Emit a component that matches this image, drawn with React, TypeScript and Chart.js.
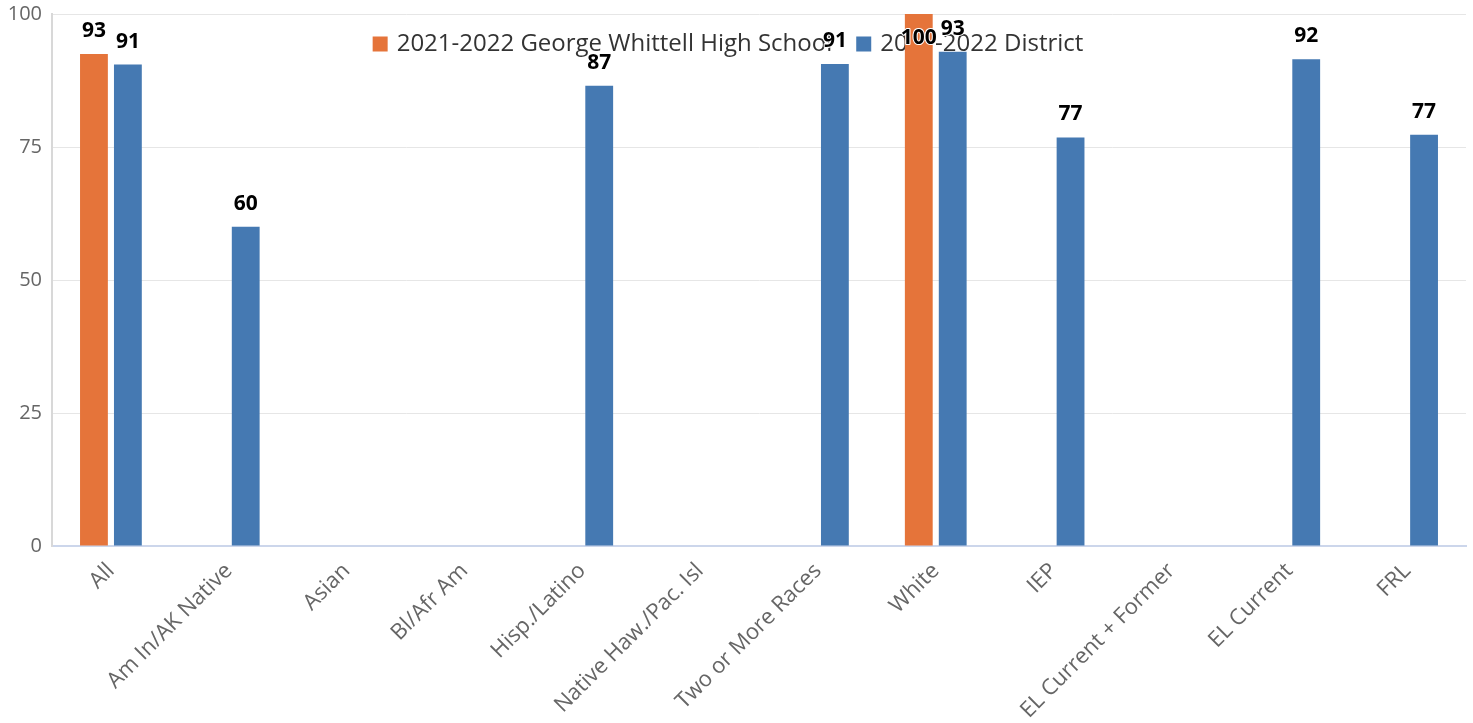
import React, { useEffect, useRef } from "react";
import { Chart, registerables } from "chart.js";

Chart.register(...registerables);

const categories = [
  "All",
  "Am In/AK Native",
  "Asian",
  "Bl/Afr Am",
  "Hisp./Latino",
  "Native Haw./Pac. Isl",
  "Two or More Races",
  "White",
  "IEP",
  "EL Current + Former",
  "EL Current",
  "FRL",
];
const seriesNames = ["2021-2022 George Whittell High School", "2021-2022 District"];
const schoolValues = [92.5, null, null, null, null, null, null, 100, null, null, null, null];
const districtValues = [90.5, 60, null, null, 86.5, null, 90.6, 92.9, 76.8, null, 91.5, 77.3];
const yTicks = [0, 25, 50, 75, 100];

const ORANGE = "#E5743A";
const BLUE = "#4579B2";
const FONT = "'Open Sans', 'Noto Sans', sans-serif";

const legendPlugin = {
  id: "floatingLegend",
  beforeDatasetsDraw(chart: any) {
    const ctx = chart.ctx;
    ctx.save();
    ctx.font = `24px ${FONT}`;
    ctx.textBaseline = "middle";
    const box = 15;
    const gapBoxText = 9;
    const gapItems = 24;
    const colors = chart.data.datasets.map((d: any) => d.backgroundColor);
    const widths = seriesNames.map((n) => ctx.measureText(n).width);
    const total = widths.reduce((a, w) => a + box + gapBoxText + w, 0) + gapItems * (seriesNames.length - 1);
    let x = 728 - total / 2;
    const y = 44;
    seriesNames.forEach((n, i) => {
      ctx.fillStyle = colors[i];
      ctx.fillRect(x, y - box / 2, box, box);
      x += box + gapBoxText;
      ctx.fillStyle = "#333333";
      ctx.fillText(n, x, y);
      x += widths[i] + gapItems;
    });
    ctx.restore();
  },
};

const labelPlugin = {
  id: "valueLabels",
  afterDatasetsDraw(chart: any) {
    const ctx = chart.ctx;
    ctx.save();
    ctx.font = `bold 21px ${FONT}`;
    ctx.textAlign = "center";
    ctx.textBaseline = "middle";
    ctx.lineJoin = "round";
    chart.data.datasets.forEach((ds: any, di: number) => {
      const meta = chart.getDatasetMeta(di);
      meta.data.forEach((el: any, i: number) => {
        const v = ds.data[i];
        if (v === null || v === undefined) return;
        let ty = el.y - 23;
        if (ty < 12) ty = el.y + 24;
        const txt = String(Math.round(v));
        ctx.strokeStyle = "#ffffff";
        ctx.lineWidth = 2;
        ctx.strokeText(txt, el.x, ty);
        ctx.fillStyle = "#000000";
        ctx.fillText(txt, el.x, ty);
      });
    });
    ctx.restore();
  },
};

export default function App() {
  const ref = useRef<HTMLCanvasElement>(null);
  useEffect(() => {
    if (!ref.current) return;
    const chart = new Chart(ref.current, {
      type: "bar",
      data: {
        labels: categories,
        datasets: [
          {
            label: seriesNames[0],
            data: schoolValues,
            backgroundColor: ORANGE,
            categoryPercentage: 0.576,
            barPercentage: 0.82,
          },
          {
            label: seriesNames[1],
            data: districtValues,
            backgroundColor: BLUE,
            categoryPercentage: 0.576,
            barPercentage: 0.82,
          },
        ],
      },
      options: {
        responsive: false,
        animation: false,
        layout: { padding: { top: 14, right: 7, left: 0, bottom: 0 } },
        plugins: {
          legend: { display: false },
          tooltip: { enabled: false },
        },
        scales: {
          x: {
            grid: { display: false, drawTicks: false },
            border: { display: true, color: "#ccd6eb", width: 2 },
            ticks: {
              color: "#666666",
              font: { family: FONT, size: 22 },
              minRotation: 45,
              maxRotation: 45,
              autoSkip: false,
              padding: 12,
            },
            afterFit(scale: any) {
              scale.height = 177;
              scale.paddingLeft = 0;
              scale.paddingRight = 0;
            },
          },
          y: {
            min: 0,
            max: 100,
            afterBuildTicks(scale: any) {
              scale.ticks = yTicks.map((v) => ({ value: v }));
            },
            grid: { color: "#e6e6e6", drawTicks: false },
            border: { display: true, color: "#d8d8d8", width: 2 },
            ticks: {
              color: "#666666",
              font: { family: FONT, size: 20 },
              padding: 10,
            },
            afterFit(scale: any) {
              scale.width = 52;
              scale.paddingTop = 0;
              scale.paddingBottom = 0;
            },
          },
        },
      },
      plugins: [legendPlugin, labelPlugin],
    } as any);
    return () => chart.destroy();
  }, []);
  return (
    <div style={{ position: "absolute", left: 0, top: 0, width: 1473, height: 723 }}>
      <canvas ref={ref} width={1473} height={723} style={{ display: "block" }} />
    </div>
  );
}
